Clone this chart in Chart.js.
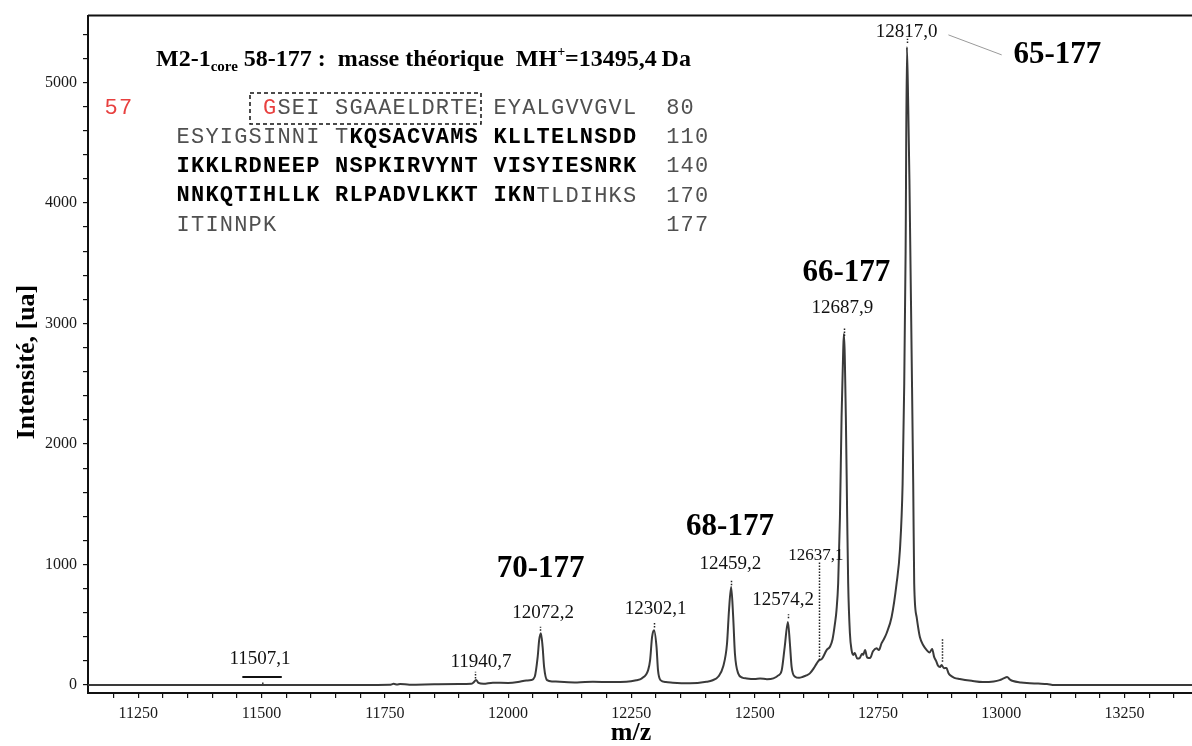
<!DOCTYPE html>
<html>
<head>
<meta charset="utf-8">
<script src="https://cdn.jsdelivr.net/npm/chart.js@4.4.0/dist/chart.umd.min.js"></script>
<style>
  html, body { margin: 0; padding: 0; background: #fff; }
  #wrap { width: 1192px; height: 746px; }
</style>
</head>
<body>
<div id="wrap"><canvas id="spectrum" width="1192" height="746"></canvas></div>
<script>
// MALDI spectrum of M2-1 core
const mzValues = [
  11148, 11300, 11450, 11600, 11700, 11760, 11768, 11775, 11781, 11800,
  11850, 11900, 11925, 11930, 11935, 11940, 11950, 11969, 12000, 12020,
  12037, 12047, 12054, 12060, 12063, 12066.5, 12070, 12073, 12079, 12090,
  12105, 12140, 12172, 12210, 12240, 12260, 12271, 12284, 12288, 12292,
  12296, 12301, 12304, 12309, 12320, 12334, 12369, 12402, 12415, 12426,
  12436, 12444, 12448, 12452.4, 12456.5, 12460, 12466.6, 12475, 12484, 12500,
  12511, 12525, 12538, 12548, 12555, 12561, 12567.5, 12571.5, 12575, 12582,
  12590, 12598, 12605, 12612, 12620, 12626, 12631, 12636, 12646, 12653,
  12658, 12663, 12666, 12669.4, 12673, 12676.3, 12679.6, 12681, 12685, 12687.7,
  12689.7, 12693.2, 12696.6, 12700, 12703, 12708, 12713, 12718, 12720, 12724,
  12728, 12734, 12740, 12747, 12752, 12757.5, 12762, 12767.6, 12777.8, 12787.9,
  12794.6, 12800.1, 12803.4, 12806.2, 12808.8, 12811.5, 12813.9, 12818.3, 12821.6, 12823.6,
  12828.5, 12835, 12842, 12849, 12855, 12860, 12864, 12868, 12872, 12876,
  12879, 12884, 12889, 12893, 12896, 12905, 12916, 12940, 12963, 12985,
  12997, 13005, 13012, 13018, 13024, 13040, 13052, 13075, 13093, 13108,
  13387
];
const intensityValues = [
  0, 0, 0, 1, 0, 2, 10, 4, 9, 3,
  6, 8, 10, 22, 42, 18, 10, 19, 18, 25,
  38, 42, 69, 234, 372, 430, 317, 151, 41, 30,
  27, 22, 27, 25, 27, 40, 55, 124, 207, 400,
  455, 317, 124, 41, 25, 19, 14, 27, 40, 69,
  151, 345, 621, 814, 565, 262, 97, 62, 55, 50,
  55, 48, 55, 80, 124, 317, 524, 345, 151, 69,
  60, 69, 80, 97, 140, 180, 207, 215, 290, 320,
  380, 513, 620, 844, 1393, 2221, 2773, 2914, 2221, 1393,
  844, 430, 290, 250, 265, 220, 224, 260, 250, 290,
  230, 224, 280, 306, 290, 348, 380, 430, 565, 844,
  1118, 1670, 2500, 3600, 5294, 4800, 4200, 2773, 1670, 844,
  565, 400, 330, 290, 270, 300, 234, 200, 160, 150,
  166, 140, 141, 100, 83, 60, 50, 35, 25, 30,
  41, 55, 66, 45, 33, 22, 17, 12, 8, 0,
  0
];

// axes
const xMajorTicks = [11250, 11500, 11750, 12000, 12250, 12500, 12750, 13000, 13250];
const yMajorTicks = [0, 1000, 2000, 3000, 4000, 5000];
const xMinorStep = 50;
const yMinorStep = 200;

// peak annotations (m/z, intensity where the label sits)
const peakLabels = ['11507,1', '11940,7', '12072,2', '12302,1', '12459,2', '12574,2', '12637,1', '12687,9', '12817,0'];
const peakLabelMz = [11497, 11945, 12071, 12299, 12451, 12558, 12624, 12678, 12808];
const peakLabelInt = [215, 190, 594, 635, 1007, 704, 1076, 3132, 5422];

const fragmentLabels = ['70-177', '68-177', '66-177', '65-177'];
const fragmentMz = [12066, 12450, 12686, 13114];
const fragmentInt = [966, 1308, 3421, 5229];

// dotted peak markers
const markerMz = [11933, 12065, 12296, 12453, 12568, 12631, 12682, 12809, 12880];
const markerFrom = [55, 450, 478, 828, 555, 207, 2897, 5327, 193];
const markerTo = [110, 483, 524, 869, 588, 1021, 2966, 5362, 387];

// sequence text block
const seqRows = [
  { col: -5, parts: [['57', 'red'], ['         ', 'n'], ['G', 'red'], ['SEI SGAAELDRTE EYALGVVGVL  80', 'n']] },
  { col: 0, parts: [['ESYIGSINNI T', 'n'], ['KQSACVAMS KLLTELNSDD', 'b'], ['  110', 'n']] },
  { col: 0, parts: [['IKKLRDNEEP NSPKIRVYNT VISYIESNRK', 'b'], ['  140', 'n']] },
  { col: 0, parts: [['NNKQTIHLLK RLPADVLKKT IKN', 'b'], ['TLDIHKS  170', 'n']] },
  { col: 0, parts: [['ITINNPK                           177', 'n']] }
];

const SERIF = '"Liberation Serif", "Times New Roman", serif';
const MONO = '"Liberation Mono", "DejaVu Sans Mono", monospace';

function drawTitle(ctx) {
  var x = 156, base = 66;
  var pieces = [
    ['M2-1', 'bold 24px ' + SERIF, 0],
    ['core', 'bold 15px ' + SERIF, 5],
    [' 58-177 :  masse th\u00e9orique  MH', 'bold 24px ' + SERIF, 0],
    ['+', 'bold 14px ' + SERIF, -10],
    ['=13495,4\u2009Da', 'bold 24px ' + SERIF, 0]
  ];
  ctx.fillStyle = '#000';
  ctx.textAlign = 'left';
  ctx.textBaseline = 'alphabetic';
  pieces.forEach(function (p) {
    ctx.font = p[1];
    ctx.fillText(p[0], x, base + p[2]);
    x += ctx.measureText(p[0]).width;
  });
}

function drawSequence(ctx) {
  var x0 = 176, pitch = 14.4, y0 = 108, rowGap = 29.3;
  ctx.textAlign = 'center';
  ctx.textBaseline = 'middle';
  seqRows.forEach(function (row, r) {
    var col = row.col;
    row.parts.forEach(function (part) {
      var style = part[1];
      ctx.font = (style === 'b' ? 'bold ' : '') + '22px ' + MONO;
      ctx.fillStyle = style === 'b' ? '#000' : (style === 'red' ? '#e8403f' : '#505050');
      for (var i = 0; i < part[0].length; i++) {
        var ch = part[0][i];
        if (ch !== ' ') ctx.fillText(ch, x0 + (col + 0.5) * pitch, y0 + r * rowGap);
        col++;
      }
    });
  });
  // dashed box round the tag + first residues
  ctx.save();
  ctx.setLineDash([4, 3]);
  ctx.lineWidth = 1.5;
  ctx.strokeStyle = '#111';
  ctx.strokeRect(250, 93, 231, 31);
  ctx.restore();
}

const spectrumDecor = {
  id: 'spectrumDecor',
  afterDraw(chart) {
    const { ctx, chartArea, scales } = chart;
    const px = function (v) { return scales.x.getPixelForValue(v); };
    const py = function (v) { return scales.y.getPixelForValue(v); };
    ctx.save();

    // top frame line
    ctx.strokeStyle = '#111';
    ctx.lineWidth = 2;
    ctx.beginPath();
    ctx.moveTo(chartArea.left, chartArea.top);
    ctx.lineTo(chartArea.right, chartArea.top);
    ctx.stroke();

    // dotted markers above peaks
    ctx.setLineDash([1.5, 1.5]);
    ctx.lineWidth = 1.5;
    ctx.strokeStyle = '#222';
    markerMz.forEach(function (m, i) {
      ctx.beginPath();
      ctx.moveTo(Math.round(px(m)) + 0.5, py(markerFrom[i]));
      ctx.lineTo(Math.round(px(m)) + 0.5, py(markerTo[i]));
      ctx.stroke();
    });
    ctx.setLineDash([]);

    // bar under 11507,1
    ctx.lineWidth = 2;
    ctx.strokeStyle = '#111';
    ctx.beginPath();
    ctx.moveTo(px(11461), py(66));
    ctx.lineTo(px(11541), py(66));
    ctx.stroke();
    ctx.fillStyle = '#333';
    ctx.fillRect(px(11502) - 0.5, py(17) - 0.5, 1.5, 1.5);

    // leader line to 65-177
    ctx.strokeStyle = '#9a9a9a';
    ctx.lineWidth = 1;
    ctx.beginPath();
    ctx.moveTo(px(12893), py(5395));
    ctx.lineTo(px(13001), py(5229));
    ctx.stroke();

    // peak mass labels
    ctx.textAlign = 'center';
    ctx.textBaseline = 'middle';
    ctx.fillStyle = '#111';
    peakLabels.forEach(function (t, i) {
      ctx.font = (t === '12637,1' ? '17px ' : '19px ') + SERIF;
      ctx.fillText(t, px(peakLabelMz[i]), py(peakLabelInt[i]));
    });

    // fragment labels
    ctx.fillStyle = '#000';
    ctx.font = 'bold 31px ' + SERIF;
    fragmentLabels.forEach(function (t, i) {
      ctx.fillText(t, px(fragmentMz[i]), py(fragmentInt[i]));
    });

    // axis titles
    ctx.font = 'bold 26px ' + SERIF;
    ctx.fillText('m/z', 631, 733);
    ctx.save();
    ctx.translate(27, 362);
    ctx.rotate(-Math.PI / 2);
    ctx.fillText('Intensit\u00e9, [ua]', 0, 0);
    ctx.restore();

    drawTitle(ctx);
    drawSequence(ctx);
    ctx.restore();
  }
};

function stepTicks(from, to, step) {
  var out = [];
  for (var v = from; v <= to; v += step) out.push({ value: v });
  return out;
}

new Chart(document.getElementById('spectrum'), {
  type: 'scatter',
  data: {
    datasets: [{
      data: mzValues.map(function (m, i) { return { x: m, y: intensityValues[i] }; }),
      showLine: true,
      borderColor: '#3a3a3a',
      borderWidth: 2,
      pointRadius: 0,
      cubicInterpolationMode: 'monotone'
    }]
  },
  options: {
    responsive: false,
    animation: false,
    devicePixelRatio: 1,
    layout: { padding: { top: 14, right: 0, left: 0, bottom: 0 } },
    plugins: { legend: { display: false }, tooltip: { enabled: false } },
    scales: {
      x: {
        type: 'linear',
        min: 11148,
        max: 13387,
        afterBuildTicks: function (scale) { scale.ticks = stepTicks(11200, 13350, xMinorStep); },
        afterFit: function (scale) { scale.height = 53; },
        ticks: {
          autoSkip: false,
          maxRotation: 0,
          padding: 6,
          color: '#1a1a1a',
          font: { family: SERIF, size: 16 },
          callback: function (v) { return xMajorTicks.indexOf(v) >= 0 ? String(v) : ''; }
        },
        grid: { drawOnChartArea: false, drawTicks: true, tickLength: 5, color: '#111', lineWidth: 1.2 },
        border: { display: true, color: '#111', width: 2 }
      },
      y: {
        min: -66,
        max: 5555,
        afterBuildTicks: function (scale) { scale.ticks = stepTicks(0, 5400, yMinorStep); },
        afterFit: function (scale) { scale.width = 88; },
        ticks: {
          autoSkip: false,
          padding: 6,
          color: '#1a1a1a',
          font: { family: SERIF, size: 16 },
          callback: function (v) { return yMajorTicks.indexOf(v) >= 0 ? String(v) : ''; }
        },
        grid: { drawOnChartArea: false, drawTicks: true, tickLength: 5, color: '#111', lineWidth: 1.2 },
        border: { display: true, color: '#111', width: 2 }
      }
    }
  },
  plugins: [spectrumDecor]
});
</script>
</body>
</html>
